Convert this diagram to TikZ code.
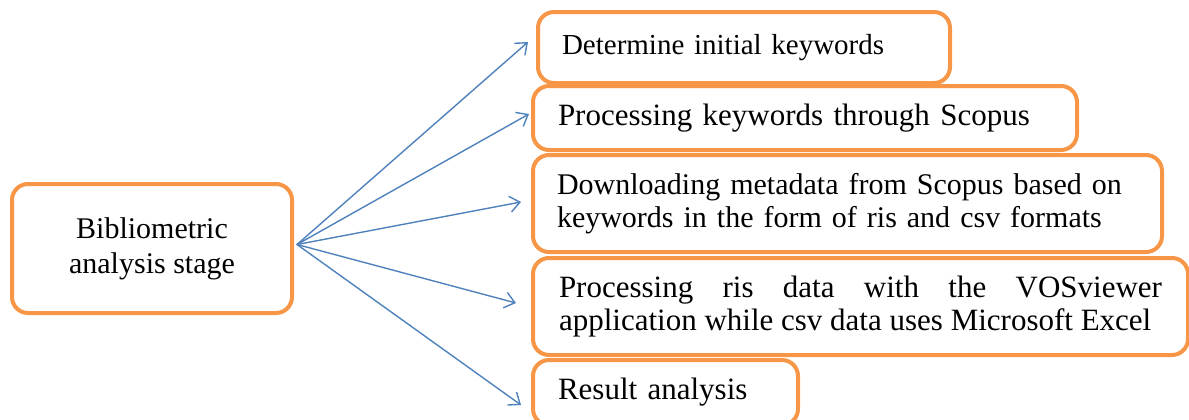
\documentclass[tikz,border=0pt]{standalone}
\usepackage{fontspec}
\setmainfont{Liberation Serif}
\usepackage{xcolor}
\usetikzlibrary{arrows.meta,calc}

\definecolor{boxorange}{HTML}{F79646}
\definecolor{linkblue}{HTML}{4F81BD}

\begin{document}
\begin{tikzpicture}[
		x=0.5pt,
		y=0.5pt,
		line cap=round,
		line join=round,
		stage/.style={
			draw=boxorange,
			line width=2pt,
			rounded corners=8pt,
			fill=white,
			inner xsep=12pt,
			inner ysep=0pt,
			align=left,
			font=\fontsize{15.5}{16.5}\selectfont
		},
		link/.style={
			draw=linkblue,
			line width=0.7pt,
			-{Straight Barb[length=5pt,width=8pt]}
		}
		]
		
		% page frame
		\useasboundingbox (0,0) rectangle (1189,419);
		
		% left stage box
		\node[stage, minimum width=140pt, minimum height=64.5pt, align=center,
		font=\fontsize{15}{17.5}\selectfont] (bib) at (152,170.5)
		{Bibliometric\\analysis stage};
		
		% step boxes
		\node[stage, minimum width=206pt, minimum height=35.5pt, text width=182pt,
		font=\fontsize{14.5}{16}\selectfont] (det) at (744,371.5)
		{Determine initial keywords};
		\node[stage, minimum width=272pt, minimum height=32pt, inner xsep=12.5pt,
		text width=247pt] (proc) at (805,301)
		{Processing keywords through Scopus};
		\node[stage, minimum width=314.5pt, minimum height=48.5pt, inner xsep=12pt,
		text width=290.5pt, font=\fontsize{15}{16.5}\selectfont] (down) at (847.5,215.5)
		{Downloading metadata from Scopus based on\\keywords in the form of ris and csv formats};
		\node[stage, minimum width=327.5pt, minimum height=48.5pt, inner xsep=13pt,
		text width=301.5pt, align=justify] (vos) at (860.5,112.5)
		{Processing ris data with the VOSviewer\linebreak application while csv data uses Microsoft Excel};
		\node[stage, minimum width=132.5pt, minimum height=32.5pt, inner xsep=12.5pt,
		text width=107.5pt] (res) at (665.5,26.5)
		{Result analysis};
		
		% fan of arrows
		\coordinate (hub) at ([xshift=1.5pt,yshift=2pt]bib.east);
		\draw[link] (hub) -- ([xshift=-4pt,yshift=2.75pt]det.west);
		\draw[link] (hub) -- ([xshift=-1pt,yshift=2pt]proc.west);
		\draw[link] (hub) -- ([xshift=-5pt,yshift=0.75pt]down.west);
		\draw[link] (hub) -- ([xshift=-7.5pt,yshift=1.75pt]vos.west);
		\draw[link] (hub) -- ([xshift=-5pt,yshift=-6.25pt]res.west);
	\end{tikzpicture}
\end{document}
